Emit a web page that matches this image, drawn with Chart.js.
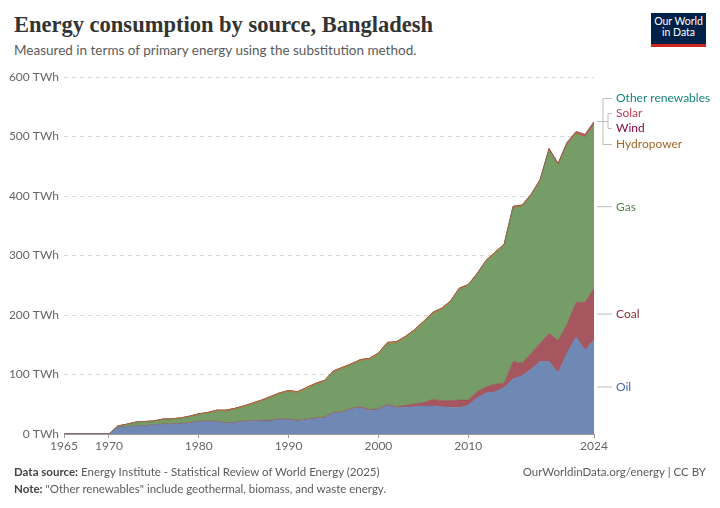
<!DOCTYPE html>
<html>
<head>
<meta charset="utf-8">
<script src="https://cdn.jsdelivr.net/npm/chart.js@4/dist/chart.umd.min.js"></script>
<style>
    html, body { margin: 0; padding: 0; background: #fff; }
    body { width: 720px; height: 508px; position: relative; overflow: hidden; font-family: Lato, sans-serif; }
    #chart { position: absolute; left: 0; top: 0; }
    .title { position: absolute; left: 14px; top: 12px; font-family: "Liberation Serif", serif; font-weight: bold; font-size: 22.5px; color: #333; white-space: nowrap; }
    .subtitle { position: absolute; left: 14px; top: 42px; font-size: 13.5px; color: #5b5b5b; white-space: nowrap; }
    .logo { position: absolute; left: 651px; top: 13px; width: 55px; height: 28px; background: #002147; border-bottom: 3px solid #ce261e; color: #fff; font-size: 10.5px; line-height: 11px; text-align: center; padding-top: 3px; box-sizing: content-box; }
    .foot { position: absolute; font-size: 11.5px; color: #5b5b5b; white-space: nowrap; }
    .foot b { font-weight: bold; color: #444; }
</style>
</head>
<body>
<div class="title">Energy consumption by source, Bangladesh</div>
<div class="subtitle">Measured in terms of primary energy using the substitution method.</div>
<div class="logo">Our World<br>in Data</div>
<canvas id="chart" width="720" height="508"></canvas>
<div class="foot" style="left:14px; top:465px;"><b>Data source:</b> Energy Institute - Statistical Review of World Energy (2025)</div>
<div class="foot" style="right:14px; top:465px;">OurWorldinData.org/energy | CC BY</div>
<div class="foot" style="left:14px; top:482px;"><b>Note:</b> "Other renewables" include geothermal, biomass, and waste energy.</div>

<script>
// Years 1965..2024
const years = [];
for (let y = 1965; y <= 2024; y++) years.push(y);

// TWh
const oil = [
    0, 0, 0, 0, 0, 0,
    11, 12, 13, 13.5, 15, 16, 16.5, 17, 18,
    20.5, 21, 20.5, 18, 18.5, 21, 21.5, 22, 22, 24.5,
    24, 22, 24, 26, 27, 35, 36, 42, 44, 39.5,
    41, 48, 44, 45, 46, 47, 47, 46, 45, 44,
    48.5, 61, 69, 71, 78, 93, 98, 109, 122, 122,
    103, 136, 163, 141, 158
];
const coal = [
    0, 0, 0, 0, 0, 0,
    0.3, 0.5, 0.6, 0.6, 0.7, 0.7, 0.8, 0.8, 0.9,
    1, 1, 1, 1, 1, 1, 1, 1, 1, 1.2,
    1.2, 1.2, 1.2, 1.2, 1.3, 1.3, 1.3, 1.4, 1.4, 1.5,
    1.5, 1.5, 1.8, 3, 4.5, 5.5, 11, 10, 11, 13,
    8.5, 10, 10.5, 12.5, 7.5, 28.5, 21, 26.5, 30.5, 47,
    54, 48, 58, 80, 87
];
const gas = [
    0, 0, 0, 0, 0, 0,
    1.2, 2.8, 5.2, 5.6, 5, 6.6, 6.5, 7.4, 9.3,
    10.3, 11.8, 16.2, 18.6, 21.1, 22.5, 27, 31.5, 37.5, 40.8,
    45.2, 45.2, 50.1, 55.1, 59.1, 67.1, 72.1, 72, 77, 83.4,
    90.6, 101.6, 106.3, 113, 121.5, 133.5, 143, 152, 164, 185,
    191.2, 196.6, 210.2, 219.5, 230.7, 258.4, 262.9, 264.2, 271.6, 306.9,
    293.7, 301.7, 282.4, 277.8, 274
];
const hydro = [
    0, 0, 0, 0, 0, 0,
    1, 1.2, 1.2, 1.3, 1.3, 1.7, 1.7, 1.8, 1.8,
    2.2, 2.2, 2.3, 2.4, 2.4, 2.5, 2.5, 2.5, 2.5, 2.5,
    2.6, 2.6, 2.7, 2.7, 2.6, 2.6, 2.6, 2.6, 2.6, 2.6,
    2.8, 2.8, 2.8, 2.9, 2.9, 2.9, 2.9, 2.9, 2.9, 2.9,
    2.6, 2.2, 2.1, 2.7, 2.4, 2.2, 2.3, 2.5, 2.5, 2.8,
    2.9, 2.4, 2.7, 1.7, 2.4
];
const wind = [
    0, 0, 0, 0, 0, 0,
    0, 0, 0, 0, 0, 0, 0, 0, 0,
    0, 0, 0, 0, 0, 0, 0, 0, 0, 0,
    0, 0, 0, 0, 0, 0, 0, 0, 0, 0,
    0, 0, 0, 0, 0, 0, 0, 0, 0, 0,
    0.01, 0.01, 0.01, 0.01, 0.01, 0.01, 0.01, 0.01, 0.02, 0.02,
    0.02, 0.02, 0.03, 0.05, 0.1
];
const solar = [
    0, 0, 0, 0, 0, 0,
    0, 0, 0, 0, 0, 0, 0, 0, 0,
    0, 0, 0, 0, 0, 0, 0, 0, 0, 0,
    0, 0, 0, 0, 0, 0, 0, 0, 0, 0,
    0, 0, 0, 0, 0, 0, 0, 0.05, 0.1, 0.1,
    0.2, 0.2, 0.2, 0.3, 0.4, 0.7, 0.7, 0.8, 0.9, 1.2,
    1.4, 1.9, 2.3, 2.9, 3.5
];
const otherRenewables = [
    0, 0, 0, 0, 0, 0,
    0, 0, 0, 0, 0, 0, 0, 0, 0,
    0, 0, 0, 0, 0, 0, 0, 0, 0, 0,
    0, 0, 0, 0, 0, 0, 0, 0, 0, 0,
    0, 0, 0, 0, 0, 0, 0, 0, 0, 0,
    0, 0, 0, 0, 0, 0, 0, 0, 0, 0,
    0, 0, 0, 0, 0.1
];

const xTicks = [1965, 1970, 1980, 1990, 2000, 2010, 2024];
const yTicks = [0, 100, 200, 300, 400, 500, 600];

// Bottom to top
const series = [
    { name: 'Oil', values: oil, fill: '#6f88b4', line: '#5f78a6', text: '#4c6a9c' },
    { name: 'Coal', values: coal, fill: '#a6565e', line: '#934650', text: '#883039' },
    { name: 'Gas', values: gas, fill: '#769d68', line: '#5d8650', text: '#578145' },
    { name: 'Hydropower', values: hydro, fill: '#b1823f', line: '#a06f2c', text: '#a2662a' },
    { name: 'Wind', values: wind, fill: '#a3305f', line: '#97004a', text: '#8a0a47' },
    { name: 'Solar', values: solar, fill: '#c5566a', line: '#b84459', text: '#c0405a' },
    { name: 'Other renewables', values: otherRenewables, fill: '#3b9a8f', line: '#2b857a', text: '#17857b' }
];

const datasets = series.map((s, i) => ({
    label: s.name,
    data: s.values.map((v, j) => ({ x: years[j], y: v })),
    backgroundColor: s.fill,
    borderColor: s.line,
    borderWidth: 0.6,
    pointRadius: 0,
    tension: 0,
    fill: i === 0 ? 'origin' : '-1'
}));

// Right side labels with connector lines
const endLabels = {
    id: 'endLabels',
    afterDraw(chart) {
        const ctx = chart.ctx;
        const yScale = chart.scales.y;
        const right = chart.chartArea.right;
        const last = years.length - 1;
        let cum = 0;
        const mids = series.map(s => {
            const v = s.values[last];
            const mid = cum + v / 2;
            cum += v;
            return yScale.getPixelForValue(mid);
        });
        const topY = yScale.getPixelForValue(cum);
        const tx = right + 22;

        ctx.save();
        ctx.font = '12px Lato';
        ctx.textBaseline = 'middle';
        ctx.textAlign = 'left';
        ctx.strokeStyle = '#bdbdbd';
        ctx.lineWidth = 1;

        // big three, direct lines
        [0, 1, 2].forEach(i => {
            ctx.beginPath();
            ctx.moveTo(right + 3, mids[i]);
            ctx.lineTo(right + 18, mids[i]);
            ctx.stroke();
            ctx.fillStyle = series[i].text;
            ctx.fillText(series[i].name, tx, mids[i]);
        });

        // small ones, spread out in a bracket
        const yOther = topY - 23, ySolar = topY - 8, yWind = topY + 7, yHydro = topY + 23;
        const bx = right + 9, sx = right + 14;
        ctx.beginPath();
        ctx.moveTo(right + 3, topY); ctx.lineTo(bx, topY);
        ctx.moveTo(bx, yOther); ctx.lineTo(bx, yHydro);
        ctx.moveTo(bx, yOther); ctx.lineTo(right + 18, yOther);
        ctx.moveTo(bx, yHydro); ctx.lineTo(right + 18, yHydro);
        ctx.moveTo(bx, topY); ctx.lineTo(sx, topY);
        ctx.moveTo(sx, ySolar); ctx.lineTo(sx, yWind);
        ctx.moveTo(sx, ySolar); ctx.lineTo(right + 18, ySolar);
        ctx.moveTo(sx, yWind); ctx.lineTo(right + 18, yWind);
        ctx.stroke();

        ctx.fillStyle = series[6].text; ctx.fillText(series[6].name, tx, yOther);
        ctx.fillStyle = series[5].text; ctx.fillText(series[5].name, tx, ySolar);
        ctx.fillStyle = series[4].text; ctx.fillText(series[4].name, tx, yWind);
        ctx.fillStyle = series[3].text; ctx.fillText(series[3].name, tx, yHydro);
        ctx.restore();
    }
};

new Chart(document.getElementById('chart'), {
    type: 'line',
    data: { datasets: datasets },
    plugins: [endLabels],
    options: {
        responsive: false,
        animation: false,
        layout: { padding: { left: 0, top: 77, right: 126, bottom: 54 } },
        plugins: {
            legend: { display: false },
            tooltip: { enabled: false }
        },
        scales: {
            x: {
                type: 'linear',
                min: 1965,
                max: 2024,
                afterBuildTicks: axis => { axis.ticks = xTicks.map(v => ({ value: v })); },
                afterFit: axis => { axis.height = 20; },
                ticks: {
                    color: '#666',
                    font: { family: 'Lato', size: 12 },
                    padding: 1,
                    maxRotation: 0,
                    autoSkip: false,
                    callback: v => String(v)
                },
                grid: { display: true, drawOnChartArea: false, drawTicks: true, tickLength: 4, color: '#999' },
                border: { display: true, color: '#999' }
            },
            y: {
                stacked: true,
                min: 0,
                max: 600,
                afterBuildTicks: axis => { axis.ticks = yTicks.map(v => ({ value: v })); },
                afterFit: axis => { axis.width = 64; },
                ticks: {
                    color: '#666',
                    font: { family: 'Lato', size: 12 },
                    padding: 5,
                    callback: v => v + ' TWh'
                },
                grid: { color: '#d6d6d6', drawTicks: false },
                border: { display: false, dash: [4, 4] }
            }
        }
    }
});
</script>
</body>
</html>
